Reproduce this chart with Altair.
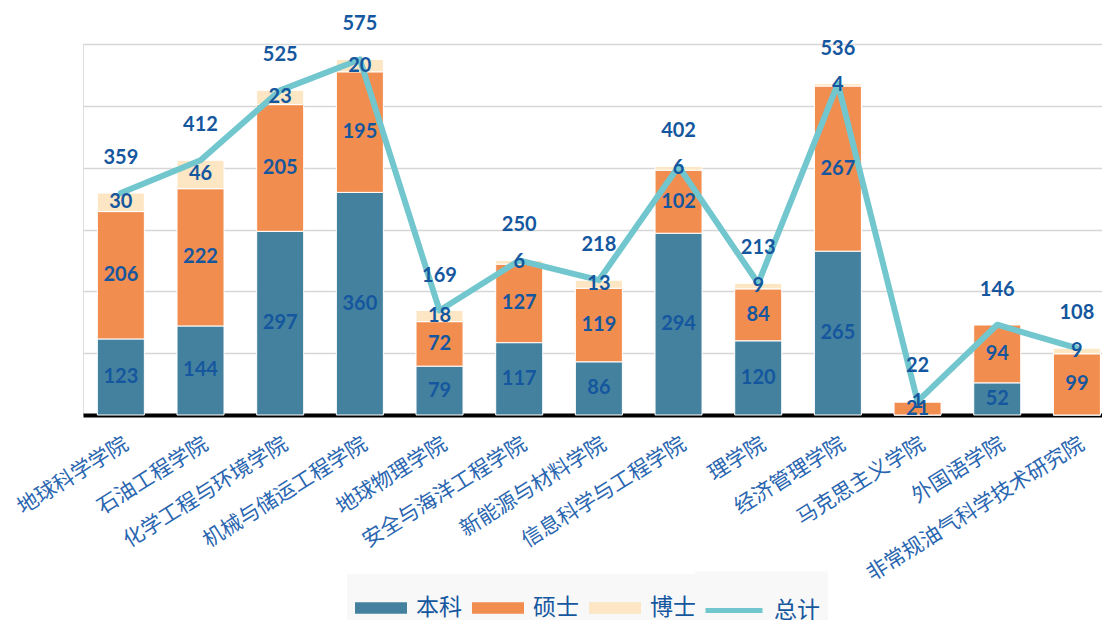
import altair as alt
import pandas as pd

colleges = ["地球科学学院", "石油工程学院", "化学工程与环境学院", "机械与储运工程学院",
            "地球物理学院", "安全与海洋工程学院", "新能源与材料学院", "信息科学与工程学院",
            "理学院", "经济管理学院", "马克思主义学院", "外国语学院", "非常规油气科学技术研究院"]
undergrad = [123, 144, 297, 360, 79, 117, 86, 294, 120, 265, 0, 52, 0]
master = [206, 222, 205, 195, 72, 127, 119, 102, 84, 267, 21, 94, 99]
doctor = [30, 46, 23, 20, 18, 6, 13, 6, 9, 4, 1, 0, 9]
total = [359, 412, 525, 575, 169, 250, 218, 402, 213, 536, 22, 146, 108]

series = ["本科", "硕士", "博士"]
series_colors = ["#44819f", "#f28d50", "#fde6c3"]
line_name = "总计"
line_color = "#72c6ce"
y_ticks = [0, 100, 200, 300, 400, 500, 600]

label_color = "#15579e"
axis_label_color = "#2a66b0"
legend_fill = "#f8f8f8"
cjk = "Noto Sans CJK SC"

rows = []
for i, c in enumerate(colleges):
    for k, (s, vals) in enumerate(zip(series, [undergrad, master, doctor])):
        rows.append({"college": c, "series": s, "value": vals[i], "order": k})
df = pd.DataFrame(rows)
tot = pd.DataFrame({"college": colleges, "total": total, "name": [line_name] * len(colleges)})

x = alt.X("college:N", sort=colleges,
          scale=alt.Scale(paddingInner=0.41, paddingOuter=0.1, align=0.9),
          axis=alt.Axis(title=None, labelAngle=-32, labelAlign="right", labelBaseline="top",
                        labelFont=cjk, labelFontSize=21, labelColor=axis_label_color,
                        labelPadding=18, labelLimit=0, ticks=False,
                        domainColor="black", domainWidth=4))
y_scale = alt.Scale(domain=[0, 600], nice=False)
y_axis = alt.Axis(title=None, values=y_ticks, labels=False, ticks=False, domain=False,
                  grid=True, gridColor="#d6d6d6", gridWidth=1.5)

bars = alt.Chart(df).mark_bar(stroke="white", strokeWidth=1).encode(
    x=x,
    y=alt.Y("value:Q", stack="zero", scale=y_scale, axis=y_axis),
    color=alt.Color("series:N", scale=alt.Scale(domain=series, range=series_colors),
                    legend=alt.Legend(title=None, orient="none", legendX=264, legendY=530,
                                      direction="horizontal",
                                      symbolType="M-1,-0.22H1V0.22H-1Z", symbolSize=2704,
                                      symbolStrokeWidth=0, symbolOpacity=1,
                                      labelFont=cjk, labelFontSize=23, labelColor=label_color,
                                      labelOffset=9, columnPadding=10, padding=8,
                                      fillColor=legend_fill)),
    order=alt.Order("order:Q", sort="ascending"),
)

seg_labels = alt.Chart(df).transform_filter("datum.value > 0").transform_stack(
    stack="value", groupby=["college"], as_=["v0", "v1"],
    sort=[alt.SortField("order", order="ascending")]
).transform_calculate(mid="(datum.v0 + datum.v1) / 2").mark_text(
    font="Lato", fontWeight="bold", fontSize=20, color=label_color, baseline="middle"
).encode(
    x=x,
    y=alt.Y("mid:Q", scale=y_scale, axis=y_axis),
    text="value:Q",
)

line = alt.Chart(tot).mark_line(strokeWidth=6, strokeCap="round", strokeJoin="round").encode(
    x=x,
    y=alt.Y("total:Q", scale=y_scale, axis=y_axis),
    stroke=alt.Stroke("name:N", scale=alt.Scale(domain=[line_name], range=[line_color]),
                      legend=alt.Legend(title=None, orient="none", legendX=612, legendY=527.5,
                                        symbolType="stroke", symbolSize=3249,
                                        symbolStrokeWidth=5,
                                        labelFont=cjk, labelFontSize=23, labelColor=label_color,
                                        labelOffset=9, padding=8, fillColor=legend_fill)),
)

tot_labels = alt.Chart(tot).mark_text(
    font="Lato", fontWeight="bold", fontSize=20, color=label_color, baseline="middle", dy=-35
).encode(
    x=x,
    y=alt.Y("total:Q", scale=y_scale, axis=y_axis),
    text="total:Q",
)

chart = alt.layer(bars, line, seg_labels, tot_labels).properties(
    width=1019, height=371,
    padding={"left": 75, "top": 36, "right": 0, "bottom": 205},
    autosize=alt.AutoSizeParams(type="none"),
).configure_view(stroke=None).configure(background="white")

chart.save("out.html", embed_options={"renderer": "svg", "actions": False})
